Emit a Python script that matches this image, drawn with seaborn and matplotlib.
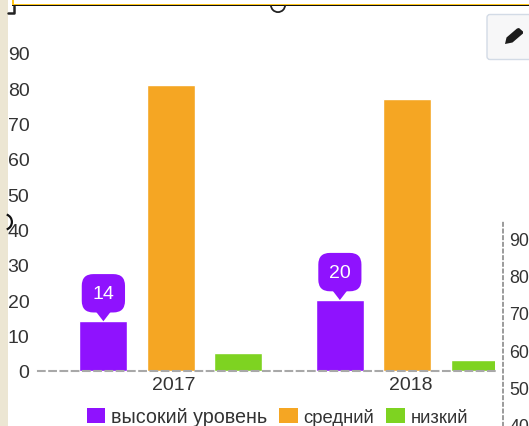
import matplotlib
matplotlib.use("Agg")
import matplotlib.pyplot as plt
from matplotlib.patches import Rectangle, FancyBboxPatch, Wedge, Polygon
from matplotlib.lines import Line2D
from matplotlib.transforms import Affine2D
import pandas as pd
import seaborn as sns

years = ["2017", "2018"]
high = [14, 20]
medium = [81, 77]
low = [5, 3]
level_names = ["высокий уровень", "средний", "низкий"]
colors = ["#8f12fe", "#f5a623", "#7ed321"]
y_ticks = [0, 10, 20, 30, 40, 50, 60, 70, 80, 90]
side_ticks = [90, 80, 70, 60, 50, 40]

W, H = 529, 427
sns.set_theme(style="white")
plt.rcParams["font.family"] = ["Liberation Sans", "DejaVu Sans"]
TXT = "#333333"
FS = 14

df = pd.DataFrame({
    "year": years * 3,
    "value": high + medium + low,
    "level": [n for n in level_names for _ in years],
})

fig = plt.figure(figsize=(W / 100, H / 100), dpi=100, facecolor="white")
px = Affine2D().scale(1, -1).translate(0, H)   # screen pixels, y down


def axes_px(l, t, r, b):
    return fig.add_axes([l / W, 1 - b / H, (r - l) / W, (b - t) / H])


ax = axes_px(38, 18.7, 495, 371.7)
ax.patch.set_alpha(0)
sns.barplot(data=df, x="year", y="value", hue="level", hue_order=level_names,
            palette=colors, width=0.855, gap=0.29, saturation=1, ax=ax,
            legend=False, errorbar=None)
ax.set_xlim(-0.5615, 1.371)
ax.set_ylim(0, 100)
ax.set_yticks(y_ticks)
ax.set_xlabel("")
ax.set_ylabel("")
for s in ["top", "left", "right"]:
    ax.spines[s].set_visible(False)
ax.spines["bottom"].set_color("#a8a8a8")
ax.spines["bottom"].set_linewidth(1.5)
ax.spines["bottom"].set_linestyle((0, (3.2, 2.2)))
ax.spines["bottom"].set_zorder(5)
ax.tick_params(axis="y", length=0, pad=6.2, labelsize=FS, labelcolor=TXT)
ax.tick_params(axis="x", length=0, pad=4, labelsize=FS, labelcolor=TXT)
for t in ax.get_xticklabels():
    t.set_transform(t.get_transform() + Affine2D().translate(3, 0))

# value callouts on the first series
for bar, v in zip(ax.containers[0], high):
    cx = bar.get_x() + bar.get_width() / 2
    ax.annotate("", xy=(cx, v), xytext=(0, 13), textcoords="offset pixels",
                arrowprops=dict(arrowstyle="wedge,tail_width=1.2,shrink_factor=0.5",
                                fc=colors[0], ec=colors[0], lw=0,
                                shrinkA=0, shrinkB=0))
    ax.annotate(str(v), xy=(cx, v), xytext=(0, 28), textcoords="offset pixels",
                ha="center", va="center", color="white", fontsize=FS,
                bbox=dict(boxstyle="round,pad=0.55,rounding_size=0.6",
                          fc=colors[0], ec=colors[0], lw=0))

handles = [Rectangle((0, 0), 1, 1, fc=c, ec="none") for c in colors]
leg = fig.legend(handles, level_names, ncols=3, frameon=False, fontsize=14.2,
                 labelcolor=TXT, loc="center left", bbox_to_anchor=(87 / W, 1 - 417.5 / H),
                 handlelength=0.92, handleheight=0.8, handletextpad=0.3,
                 columnspacing=0.62, borderpad=0, borderaxespad=0)
for t in leg.get_texts()[1:]:
    t.set_fontsize(13.3)

# neighbouring chart, cropped at the right edge
side = axes_px(503, 221, 540, 427)
side.patch.set_alpha(0)
side.set_ylim(39.5, 95.1)
side.set_xlim(0, 1)
side.set_yticks(side_ticks)
side.set_xticks([])
for s in ["top", "bottom", "right"]:
    side.spines[s].set_visible(False)
side.spines["left"].set_color("#8a8a8a")
side.spines["left"].set_linewidth(1.2)
side.spines["left"].set_linestyle((0, (2, 2)))
side.tick_params(axis="y", left=False, right=False, labelleft=True, length=0,
                 labelsize=12.8, labelcolor=TXT)
for t in side.get_yticklabels():
    t.set_ha("left")
    t.set_transform(side.get_yaxis_transform() + Affine2D().translate(6.5, 0))

# screenshot furniture
fig.add_artist(Rectangle((0, 0), 8, H, transform=px, fc="#ece6d3", ec="none", zorder=-1))
fig.add_artist(Rectangle((12, 4.5), W, 1.3, transform=px, fc="#ffc61a", ec="none"))
fig.add_artist(Rectangle((12, 5.8), W, 1.5, transform=px, fc="#111111", ec="none"))
fig.add_artist(Rectangle((12, 0), 2, 5, transform=px, fc="#ffc61a", ec="none"))
fig.add_artist(Line2D([8, 14, 14], [13.5, 13.5, 7], transform=px, color="#222222", lw=1.8))
fig.add_artist(Wedge((278, 6), 8, 0, 180, width=1.8, transform=px, fc="#222222", ec="none"))
fig.add_artist(Wedge((4, 223), 9, -70, 70, width=2.2, transform=px, fc="#111111", ec="none"))
fig.add_artist(FancyBboxPatch((487, 15.5), 60, 45, boxstyle="round,pad=0,rounding_size=3",
                              transform=px, fc="#f7f7f8", ec="#d3dbe6", lw=1))
fig.add_artist(Polygon([(505, 45), (506.5, 38.5), (517, 29.5), (519, 29), (523, 32.5),
                        (523, 34.5), (512.5, 43.5)],
                       closed=True, transform=px, fc="#1c1c1c", ec="none"))

fig.savefig("out.png", dpi=100)
